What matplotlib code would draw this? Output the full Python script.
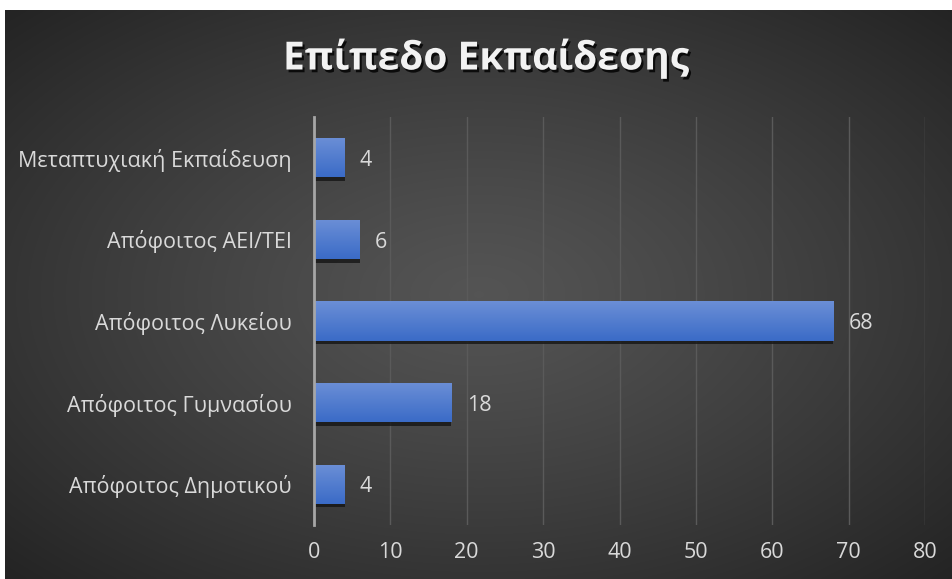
import numpy as np
import matplotlib.pyplot as plt
import matplotlib.patheffects as pe

categories = ['Απόφοιτος Δημοτικού', 'Απόφοιτος Γυμνασίου', 'Απόφοιτος Λυκείου',
              'Απόφοιτος ΑΕΙ/ΤΕΙ', 'Μεταπτυχιακή Εκπαίδευση']
values = [4, 18, 68, 6, 4]
xticks = [0, 10, 20, 30, 40, 50, 60, 70, 80]
title = 'Επίπεδο Εκπαίδεσης'

plt.rcParams['font.family'] = ['Open Sans', 'DejaVu Sans']

W, H = 953, 579
fig = plt.figure(figsize=(W / 100, H / 100), dpi=100)
fig.patch.set_facecolor('white')

# radial gradient background of the chart area
bg = fig.add_axes([5 / W, 0, 948 / W, 569 / H], zorder=-10)
yy, xx = np.mgrid[-1:1:300j, -1:1:500j]
r = np.sqrt(xx ** 2 + yy ** 2) / np.sqrt(2)
lum = 0.33 - 0.19 * np.clip(r, 0, 1) ** 1.2
bg.imshow(np.dstack([lum, lum, lum]), aspect='auto', extent=[0, 1, 0, 1],
          interpolation='bilinear')
bg.axis('off')

ax = fig.add_axes([314 / W, 1 - 525 / H, (925 - 314) / W, (525 - 117) / H])
ax.set_facecolor('none')
y = np.arange(len(categories))
h = 0.48

grad = np.linspace(0, 1, 64).reshape(-1, 1)
top = np.array([0.42, 0.56, 0.84])
bot = np.array([0.23, 0.42, 0.78])
img = (bot + (top - bot) * grad[..., None]).reshape(64, 1, 3)

for yi, v in zip(y, values):
    # shadow
    ax.barh(yi - 0.045, v, height=h, left=0, color='#151515', alpha=0.8, zorder=2)
    bar = ax.barh(yi, v, height=h, color='#4a78cf', zorder=3)[0]
    im = ax.imshow(img, extent=[0, v, yi - h / 2, yi + h / 2], aspect='auto',
                   origin='lower', zorder=4, interpolation='bilinear')
    im.set_clip_path(bar)
    ax.annotate(str(v), (v, yi), xytext=(11, -2), textcoords='offset points',
                va='center', ha='left', color='#d9d9d9', fontsize=15.5)

ax.set_aspect('auto')
ax.set_xlim(0, 80)
ax.set_ylim(-0.5, len(categories) - 0.5)
ax.set_xticks(xticks)
ax.set_yticks(y)
ax.set_yticklabels(categories)
ax.grid(axis='x', color='#5a5a5a', lw=1, zorder=0)
ax.tick_params(axis='both', length=0, colors='#d9d9d9', labelsize=15.5)
ax.tick_params(axis='x', pad=12)
ax.tick_params(axis='y', pad=16)
for s in ['top', 'right', 'bottom']:
    ax.spines[s].set_visible(False)
ax.spines['left'].set_color('#a6a6a6')
ax.spines['left'].set_linewidth(2)
ax.spines['left'].set_zorder(6)

fig.text(486 / W, 1 - 58 / H, title, ha='center', va='center', color='#f2f2f2',
         fontsize=28, fontweight='bold',
         path_effects=[pe.withSimplePatchShadow(offset=(1.5, -2), shadow_rgbFace='black', alpha=0.8)])

fig.savefig('out.png', dpi=100)
